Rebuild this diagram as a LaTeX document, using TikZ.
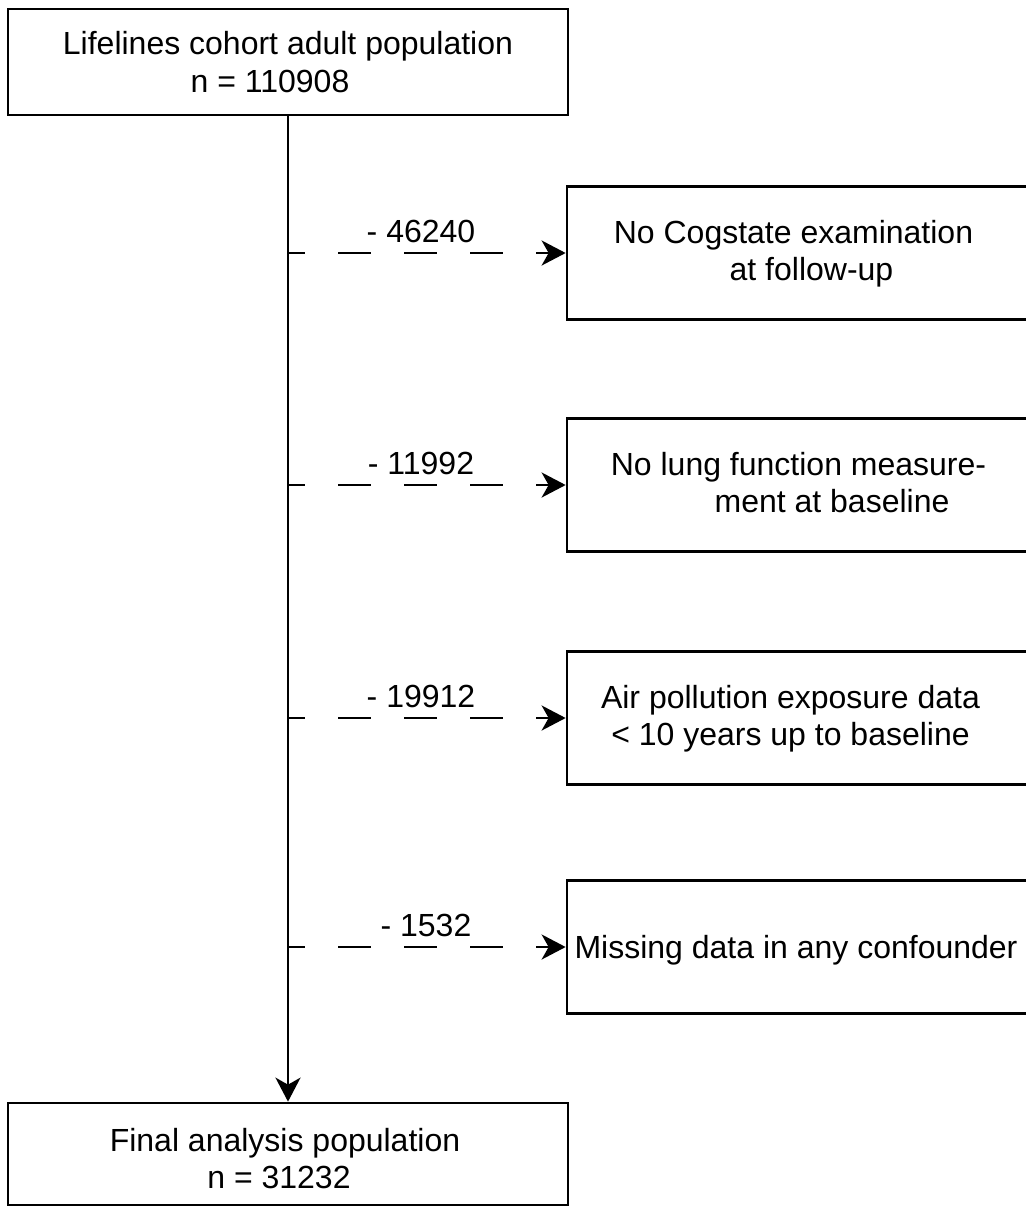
\documentclass[tikz,border=0pt]{standalone}
\usepackage{fontspec}
\setmainfont{Liberation Sans}
\usetikzlibrary{arrows.meta}
\begin{document}
\begin{tikzpicture}[x=0.5pt,y=-0.5pt,
  wbox/.style={draw=black, line width=1.35pt, rectangle, inner sep=0pt,
    minimum width=280pt, minimum height=53pt},
  rbox/.style={draw=black, line width=1.35pt, rectangle, inner sep=0pt,
    minimum width=230.5pt, minimum height=66.5pt},
  txt/.style={inner sep=0pt, anchor=base, text=black,
    font=\fontsize{16pt}{19.2pt}\selectfont},
  flow/.style={draw=black, line width=1.35pt,
    -{Stealth[length=12pt,width=12.5pt,inset=3.5pt]}},
  excl/.style={flow, dash pattern=on 16.5pt off 16.5pt, dash phase=8pt}]
\useasboundingbox (0,0) rectangle (1026,1207);
\fill[white] (0,0) rectangle (1026,1207);

% main boxes
\node[wbox] (top) at (288,62) {};
\node[wbox, minimum height=51pt] (bot) at (288,1154) {};

% exclusion boxes
\node[rbox] (b1) at (797.5,253) {};
\node[rbox] (b2) at (797.5,485) {};
\node[rbox] (b3) at (797.5,718) {};
\node[rbox] (b4) at (797.5,947) {};

% texts
\node[txt] (t0a) at (288,54) {Lifelines cohort adult population};
\node[txt] (t0b) at (270,92) {n = 110908};
\node[txt] (t1a) at (793.5,243) {No Cogstate examination};
\node[txt] (t1b) at (811.5,280) {at follow-up};
\node[txt] (t2a) at (798.5,475) {No lung function measure-};
\node[txt] (t2b) at (832,512) {ment at baseline};
\node[txt] (t3a) at (790.5,708) {Air pollution exposure data};
\node[txt] (t3b) at (790.5,745) {< 10 years up to baseline};
\node[txt] (t4a) at (796,958) {Missing data in any confounder};
\node[txt] (t5a) at (285,1151) {Final analysis population};
\node[txt] (t5b) at (279,1188) {n = 31232};

% branch points on the main line
\coordinate (s1) at (288,253);
\coordinate (s2) at (288,485);
\coordinate (s3) at (288,718);
\coordinate (s4) at (288,947);

% connectors
\draw[flow] (top.south) -- (bot.north);
\draw[excl] (s1) -- (b1.west);
\draw[excl] (s2) -- (b2.west);
\draw[excl] (s3) -- (b3.west);
\draw[excl] (s4) -- (b4.west);

% labels
\node[txt] (l1) at (421,242) {- 46240};
\node[txt] (l2) at (421,474) {- 11992};
\node[txt] (l3) at (421,707) {- 19912};
\node[txt] (l4) at (426,936) {- 1532};
\end{tikzpicture}
\end{document}
